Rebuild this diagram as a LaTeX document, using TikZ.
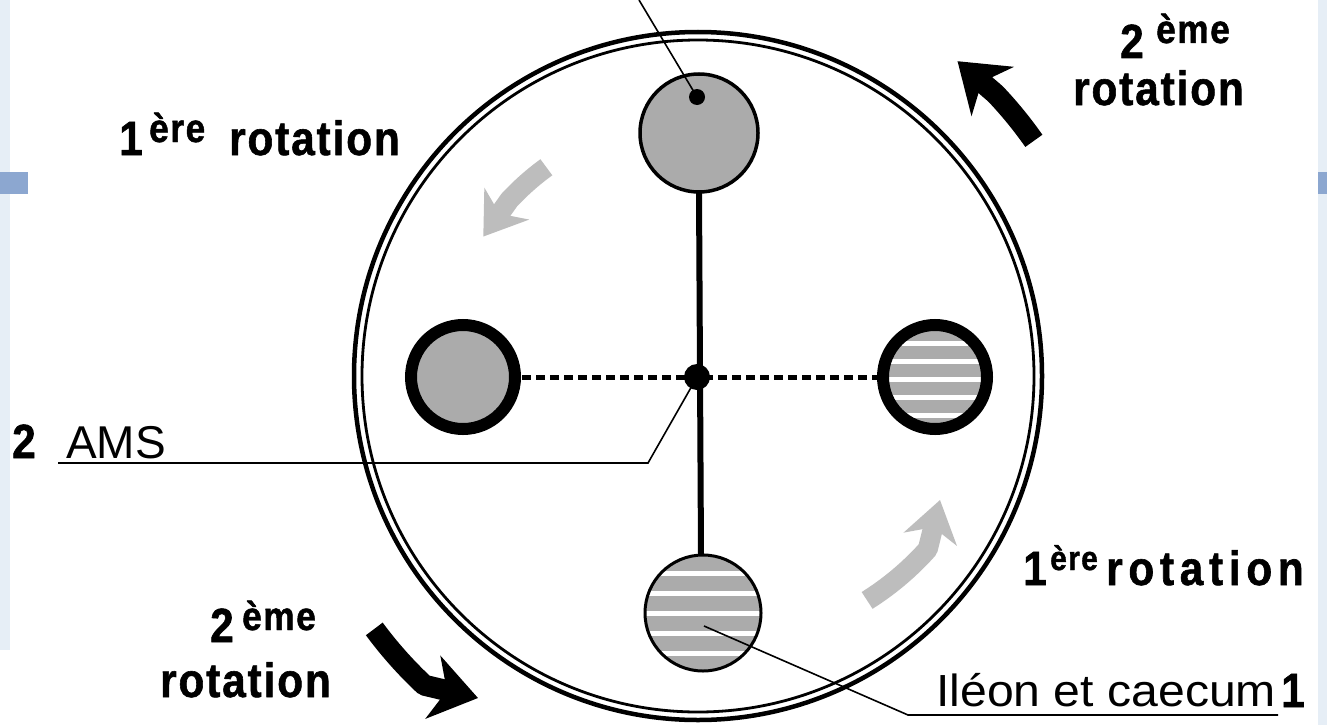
\documentclass[tikz,border=0pt]{standalone}
\usepackage{fontspec}
\setmainfont{Liberation Sans}
\newfontfamily\rotfont[FakeStretch=0.88,LetterSpace=4,FakeBold=1.2]{Liberation Sans}
\newfontfamily\rotwide[FakeStretch=0.88,LetterSpace=12,FakeBold=1.2]{Liberation Sans}
\usetikzlibrary{arrows.meta}
\definecolor{fillgray}{HTML}{ABABAB}
\definecolor{arrgray}{HTML}{BDBDBD}
\definecolor{stripblue}{HTML}{E6EEF6}
\definecolor{bandblue}{HTML}{8CA7D0}
\tikzset{
  big/.style={inner sep=0pt, anchor=base west, font=\rotfont\bfseries\fontsize{48}{50}\selectfont},
  sup/.style={inner sep=0pt, anchor=base west, font=\rotfont\bfseries\fontsize{40}{42}\selectfont},
  lab/.style={inner sep=0pt, anchor=base west, font=\fontsize{46}{48}\selectfont},
  thinline/.style={line width=1.6pt},
  blackarrow/.style={line width=21pt, black, line join=round, -{Stealth[length=46pt,width=64pt,inset=14pt]}},
  grayarrow/.style={line width=20pt, arrgray, line join=round, -{Stealth[length=40pt,width=54pt,inset=12pt]}},
}
\begin{document}
\begin{tikzpicture}[x=1pt,y=-1pt]
\useasboundingbox (0,0) rectangle (1327,725);
\fill[white] (0,0) rectangle (1327,725);
% slide background strips
\fill[stripblue] (0,0) rectangle (10,650);
\fill[stripblue] (1318,0) rectangle (1327,725);
\fill[bandblue] (0,172) rectangle (28,194);
\fill[bandblue] (1318,172) rectangle (1327,194);

% outer double circle
\coordinate (C) at (698,376);
\draw[line width=4.5pt] (C) circle[radius=344];
\draw[line width=2.8pt] (C) circle[radius=336];

% vertical mesentery
\draw[line width=6pt] (699,192) -- (701,555);

% dashed horizontal
\draw[line width=5pt, dash pattern=on 9pt off 5pt] (522,377) -- (877,377);

% top circle
\node[circle, draw, line width=3.5pt, fill=fillgray, minimum size=118pt, inner sep=0pt] (top) at (699,133) {};
\fill (697,97) circle[radius=8] coordinate (topdot);
\coordinate (topend) at (639,0);
\draw[thinline] (topdot) -- (topend);

% left ring
\node[circle, draw, line width=12pt, fill=fillgray, minimum size=104pt, inner sep=0pt] (left) at (463,377) {};

% right ring (striped)
\begin{scope}
  \clip (935,377) circle[radius=50];
  \fill[fillgray] (880,320) rectangle (990,435);
  \foreach \y in {343,361,379,397,415}
    \draw[white, line width=5pt] (880,\y) -- (990,\y);
\end{scope}
\node[circle, draw, line width=12pt, minimum size=104pt, inner sep=0pt] (right) at (935,377) {};

% bottom circle (striped)
\begin{scope}
  \clip (703,613) circle[radius=58];
  \fill[fillgray] (640,550) rectangle (770,680);
  \foreach \y in {573,593,613,633,653}
    \draw[white, line width=5pt] (640,\y) -- (770,\y);
\end{scope}
\node[circle, draw, line width=3pt, minimum size=116pt, inner sep=0pt] (bottom) at (703,613) {};

% center dot
\fill (697,377) circle[radius=13] coordinate (ctr);

% AMS leader
\coordinate (amsA) at (58,463);
\coordinate (amsB) at (648,463);
\draw[thinline] (amsA) -- (amsB) -- (ctr);
\node[big] (n2) at (12,458) {2};
\node[lab] (ams) at (66,458) {AMS};

% Ileon leader
\coordinate (ilA) at (704,626);
\coordinate (ilB) at (908,715);
\coordinate (ilC) at (1278,715);
\draw[thinline] (ilA) -- (ilB) -- (ilC);
\node[lab, font=\fontsize{45}{47}\selectfont] (ileon) at (936,706) {\scalebox{1.07}[1]{Iléon et caecum}};
\node[big] (n1) at (1281,707) {1};

% labels
\node[big] (tl1) at (119,155) {1};
\node[sup] (tl1s) at (149,142) {ère};
\node[big] (tlr) at (229,155) {rotation};

\node[big] (tr2) at (1120,58) {2};
\node[sup] (tr2s) at (1156,43) {ème};
\node[big] (trr) at (1073,105) {rotation};

\node[big] (bl2) at (210,642) {2};
\node[sup] (bl2s) at (242,630) {ème};
\node[big] (blr) at (160,697) {rotation};

\node[big] (r1) at (1023,585) {1};
\node[sup, font=\rotfont\bfseries\fontsize{34}{36}\selectfont] (r1s) at (1050,570) {ère};
\node[big, font=\rotwide\bfseries\fontsize{48}{50}\selectfont] (rr) at (1106,585) {rotation};

% rotation arrows
\coordinate (tipTR) at ({698+408*cos(-50.5)}, {376+408*sin(-50.5)});
\draw[blackarrow] plot[domain=-35:-43.5, samples=12] ({698+410*cos(\x)}, {376+410*sin(\x)}) -- (tipTR);
\coordinate (tipBL) at (478,698);
\draw[blackarrow] plot[domain=142:131.5, samples=12] ({698+(413-0.2*(\x-131))*cos(\x)}, {376+(413-0.2*(\x-131))*sin(\x)}) -- (tipBL);
\coordinate (tipTL) at ({698+256*cos(-147)}, {376+256*sin(-147)});
\draw[grayarrow] plot[domain=-126:-137, samples=12] ({698+258*cos(\x)}, {376+258*sin(\x)}) -- (tipTL);
\coordinate (tipBR) at (940,500);
\draw[grayarrow] plot[domain=53:37, samples=12] ({698+(281+0.42*(53-\x))*cos(\x)}, {376+(281+0.42*(53-\x))*sin(\x)}) -- (tipBR);
\end{tikzpicture}
\end{document}
